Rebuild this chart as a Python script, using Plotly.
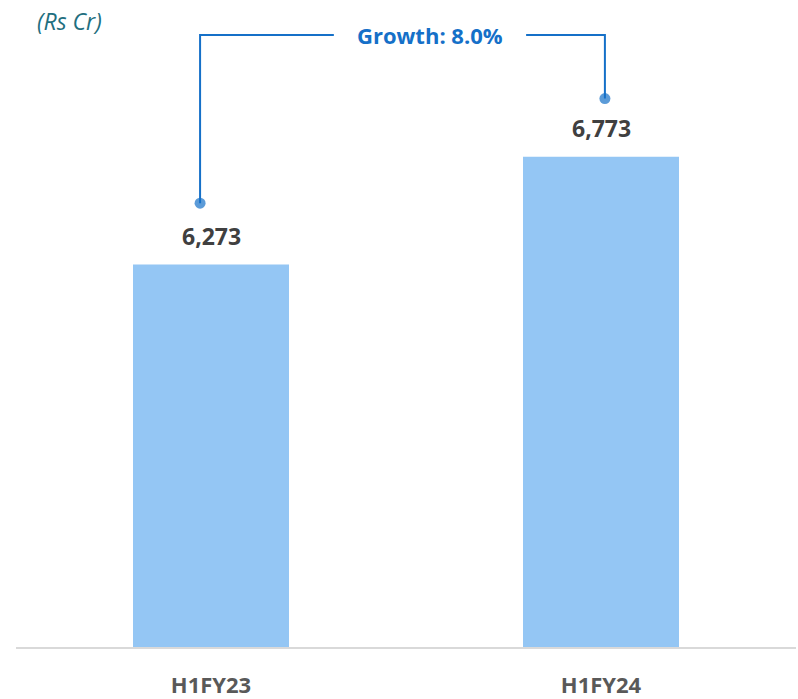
import plotly.graph_objects as go

categories = ["H1FY23", "H1FY24"]
values = [6273, 6773]
growth_label = "Growth: 8.0%"
unit_label = "(Rs Cr)"

BAR = "#94C6F4"
BLUE = "#1570C8"
DARK = "#404040"
FONT = "Open Sans"

y_min, y_max = 4500, 7500
dot_gap = 285          # data units between bar top and bracket dot
bracket_y = 7338       # bracket horizontal level (data units)
xl, xr = 0 - 0.028, 1 + 0.01
gap_l, gap_r = 0.315, 0.808
text_x = 0.5615

fig = go.Figure()
fig.add_trace(go.Bar(
    x=[0, 1], y=values, width=0.4, marker=dict(color=BAR, line=dict(width=0)),
    hoverinfo="skip", showlegend=False,
))

# bracket: left arm and right arm
fig.add_trace(go.Scatter(
    x=[xl, xl, gap_l], y=[values[0] + dot_gap, bracket_y, bracket_y],
    mode="lines+markers", line=dict(color=BLUE, width=2),
    marker=dict(size=[11, 0, 0], color=BLUE, line=dict(width=0)),
    showlegend=False, hoverinfo="skip",
))
fig.add_trace(go.Scatter(
    x=[xr, xr, gap_r], y=[values[1] + dot_gap - 15, bracket_y, bracket_y],
    mode="lines+markers", line=dict(color=BLUE, width=2),
    marker=dict(size=[11, 0, 0], color=BLUE, line=dict(width=0)),
    showlegend=False, hoverinfo="skip",
))

annotations = []
for i, v in enumerate(values):
    annotations.append(dict(
        x=i, y=v, xref="x", yref="y", text=f"<b>{v:,}</b>", showarrow=False,
        yanchor="bottom", yshift=11, font=dict(family=FONT, size=23, color=DARK),
    ))
annotations.append(dict(
    x=text_x, y=bracket_y, xref="x", yref="y", text=f"<b>{growth_label}</b>",
    showarrow=False, font=dict(family=FONT, size=22, color=BLUE),
))
annotations.append(dict(
    xref="paper", yref="paper", x=(69 - 16) / 780, y=(650 - 21) / 650,
    xanchor="center", yanchor="middle",
    text=f"<i>{unit_label}</i>", showarrow=False,
    font=dict(family=FONT, size=23, color="#1F6F80"),
))

fig.update_layout(
    width=798, height=699,
    margin=dict(l=16, r=2, t=0, b=49),
    paper_bgcolor="white", plot_bgcolor="white",
    annotations=annotations,
    xaxis=dict(
        range=[-0.5, 1.5], tickmode="array", tickvals=[0, 1],
        ticktext=[f"<b>{c}</b>" for c in categories],
        tickfont=dict(family=FONT, size=22, color="#595959"),
        showline=True, linecolor="#D9D9D9", linewidth=2,
        showgrid=False, zeroline=False, ticks="", ticklabelstandoff=18,
    ),
    yaxis=dict(range=[y_min, y_max], visible=False, showgrid=False, zeroline=False),
)

fig.write_html("out.html", config={"displayModeBar": False},
               post_script="document.body.style.margin='0';")
